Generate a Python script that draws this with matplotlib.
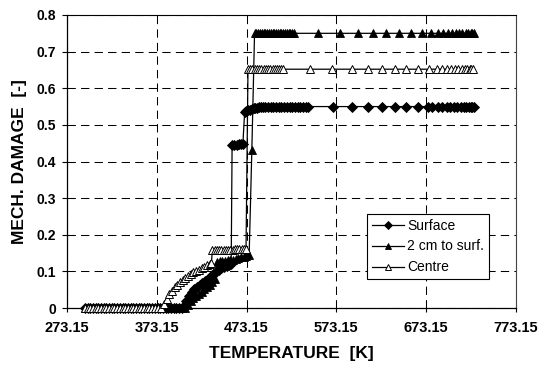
import matplotlib
matplotlib.use("Agg")
import matplotlib.pyplot as plt

# ---------------- data ----------------
surface_T = [293, 296, 299, 302, 305, 308, 311, 314, 317, 320, 323, 326, 329, 332, 335, 338,
             341, 344, 347, 350, 353, 356, 359, 362, 365, 368, 371, 374, 377, 380, 383, 386,
             389, 392, 395, 398, 401,
             403, 406, 409, 412, 415, 418, 421, 424, 427, 430, 433, 436, 439, 442, 445, 448,
             451, 454, 456,
             457, 459.5, 462, 464.5, 467, 469,
             471, 473, 475, 477, 479, 481, 483, 485, 487, 489, 491, 494, 497, 500, 503, 506,
             509, 512, 515, 518, 521, 524, 527, 530, 533, 536, 539, 542,
             569.4, 591, 608.3, 624.4, 638, 651.1, 664, 675.2, 680, 686, 691, 696, 700, 704,
             708, 711.5, 715, 718, 720.5, 722.5, 724.5, 726]
surface_D = [0.0] * 37 + \
            [0.006, 0.020, 0.034, 0.044, 0.052, 0.058, 0.063, 0.068, 0.074, 0.080, 0.087,
             0.093, 0.099, 0.104, 0.108, 0.112, 0.115, 0.118, 0.120,
             0.445, 0.446, 0.446, 0.447, 0.447, 0.448,
             0.536, 0.538, 0.540, 0.541, 0.543, 0.545, 0.546, 0.547, 0.548, 0.549, 0.550,
             0.550, 0.550, 0.550, 0.550, 0.550, 0.550, 0.550, 0.550, 0.550, 0.550, 0.550,
             0.550, 0.550, 0.550, 0.550, 0.550, 0.550,
             0.550, 0.550, 0.550, 0.550, 0.550, 0.550, 0.550, 0.550, 0.550, 0.550, 0.550,
             0.550, 0.550, 0.550, 0.550, 0.550, 0.550, 0.550, 0.550, 0.550, 0.550, 0.550]

cm2_T = [293, 296, 299, 302, 305, 308, 311, 314, 317, 320, 323, 326, 329, 332, 335, 338,
         341, 344, 347, 350, 353, 356, 359, 362, 365, 368, 371, 374, 377, 380, 383, 386,
         389, 392, 395, 398, 401, 405,
         408, 411, 414, 417, 420, 423, 426, 429, 432, 435, 438,
         440, 443, 446, 449, 452, 455, 458, 461, 464, 467, 470, 473, 476,
         479,
         482, 484, 486, 488, 490, 492, 494, 496, 498, 500, 502, 504, 506, 508, 510, 512,
         514, 516, 518, 520, 522, 524, 526,
         552.7, 576.8, 597.2, 613.9, 628.8, 642.8, 656.6, 668.9, 678.9, 686, 692, 697,
         702, 706, 710, 713.5, 717, 720, 722.5, 724.5, 726]
cm2_D = [0.0] * 38 + \
        [0.008, 0.018, 0.026, 0.033, 0.039, 0.045, 0.051, 0.057, 0.064, 0.071, 0.078,
         0.125, 0.127, 0.128, 0.129, 0.130, 0.131, 0.132, 0.134, 0.136, 0.138, 0.140,
         0.142, 0.145,
         0.432] + [0.750] * 23 + [0.750] * 21

centre_T = [293, 296, 299, 302, 305, 308, 311, 314, 317, 320, 323, 326, 329, 332, 335, 338,
            341, 344, 347, 350, 353, 356, 359, 362, 365, 368, 371, 374, 378,
            381, 384, 387, 390, 393, 396, 399, 402, 405, 408, 411, 414, 417, 420, 423, 426,
            429, 432, 434,
            435, 437.5, 440, 442.5, 445, 447.5, 450, 452.5, 455, 457.5, 460, 462.5, 465,
            467.5, 470, 472.5,
            474.7, 477, 479.5, 482, 484.5, 487, 489.5, 492, 494.5, 497, 499.5, 502, 504.5,
            507, 509.5, 512, 513.7,
            543.4, 568.7, 591, 608.3, 624.4, 638, 651.1, 664, 676.3, 685, 691, 696, 701,
            705, 709, 712.5, 716, 719, 721.5, 723.5, 725.3]
centre_D = [0.0] * 29 + \
           [0.012, 0.025, 0.037, 0.047, 0.056, 0.064, 0.071, 0.077, 0.082, 0.087, 0.092,
            0.097, 0.101, 0.105, 0.109, 0.113, 0.117, 0.121, 0.124,
            0.157, 0.157, 0.158, 0.158, 0.158, 0.158, 0.159, 0.159, 0.159, 0.159, 0.160,
            0.160, 0.160, 0.160, 0.160, 0.160] + [0.652] * 17 + [0.652] * 21

series_names = ["Surface", "2 cm to surf.", "Centre"]
x_ticks = [273.15, 373.15, 473.15, 573.15, 673.15, 773.15]
y_ticks = [0, 0.1, 0.2, 0.3, 0.4, 0.5, 0.6, 0.7, 0.8]
x_label = "TEMPERATURE  [K]"
y_label = "MECH. DAMAGE  [-]"

# ---------------- figure ----------------
plt.rcParams['font.family'] = ['Liberation Sans', 'DejaVu Sans']

fig = plt.figure(figsize=(5.43, 3.65), dpi=100)
ax = fig.add_axes([67 / 543, 1 - 308 / 365, (516 - 67) / 543, (308 - 15) / 365])

ax.plot(surface_T, surface_D, color='black', lw=0.9, marker='D', ms=5.0,
        mfc='black', mec='black', mew=0.6, label=series_names[0], zorder=3, clip_on=False)
ax.plot(cm2_T, cm2_D, color='black', lw=0.9, marker='^', ms=6.2,
        mfc='black', mec='black', mew=0.6, label=series_names[1], zorder=4, clip_on=False)
ax.plot(centre_T, centre_D, color='black', lw=0.9, marker='^', ms=6.2,
        mfc='white', mec='black', mew=0.7, label=series_names[2], zorder=5, clip_on=False)

ax.set_xlim(x_ticks[0], x_ticks[-1])
ax.set_ylim(y_ticks[0], y_ticks[-1])
ax.set_xticks(x_ticks)
ax.set_xticklabels([f"{t:.2f}" for t in x_ticks])
ax.set_yticks(y_ticks)
ax.set_yticklabels([("0" if v == 0 else f"{v:g}") for v in y_ticks])

for lab in ax.get_xticklabels() + ax.get_yticklabels():
    lab.set_fontweight('bold')
ax.tick_params(axis='x', direction='out', length=3, width=0.8, pad=6, labelsize=10.5)
ax.tick_params(axis='y', direction='out', length=3.5, width=0.8, pad=4.5, labelsize=10)

ax.grid(True, color='black', lw=0.75, linestyle=(0, (8, 5)))
ax.set_axisbelow(True)

for s in ['left', 'bottom']:
    ax.spines[s].set_linewidth(0.9)
    ax.spines[s].set_color('black')
ax.spines['top'].set_linewidth(0.8)
ax.spines['right'].set_linewidth(0.8)
ax.spines['right'].set_color('#444444')

ax.set_xlabel(x_label, fontsize=12.5, fontweight='bold', labelpad=8)
ax.set_ylabel(y_label, fontsize=12.5, fontweight='bold', labelpad=7)

leg = ax.legend(loc='upper left', bbox_to_anchor=(0.668, 0.322), fontsize=10,
                frameon=True, fancybox=False, edgecolor='black', framealpha=1,
                handlelength=2.3, handletextpad=0.25, labelspacing=0.5,
                borderpad=0.35, borderaxespad=0.0, markerscale=0.8)
leg.get_frame().set_linewidth(0.8)

fig.savefig("out.png", dpi=100)
